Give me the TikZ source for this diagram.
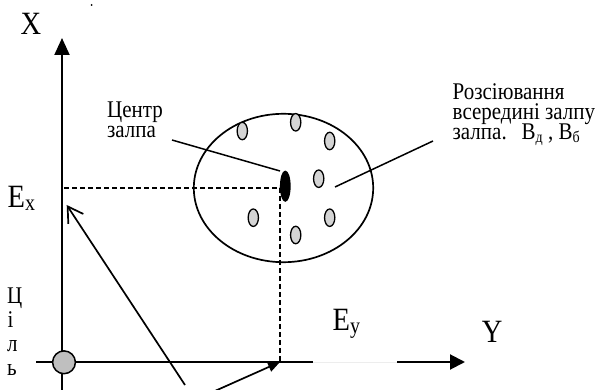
\documentclass[tikz,border=0pt]{standalone}
\usepackage{fontspec}
\setmainfont{Liberation Serif}
\usetikzlibrary{arrows.meta,shapes.geometric}
\newcommand{\vstretch}[1]{\scalebox{1}[1.14]{#1}}
\newcommand{\subsc}[2]{\raisebox{-2pt}{\fontsize{#1}{#1}\selectfont #2}}
\begin{document}
\begin{tikzpicture}[x=1pt,y=-1pt,
  big/.style={inner sep=0pt, anchor=base west, font=\fontsize{28.5}{30}\selectfont},
  small/.style={inner sep=0pt, anchor=base west, font=\fontsize{21}{21}\selectfont},
  axisline/.style={line width=2pt},
  dashline/.style={line width=1.5pt, dash pattern=on 5pt off 3pt},
  pellet/.style={ellipse, draw, line width=1.3pt, fill=black!17, minimum width=10.3pt, minimum height=17.5pt, inner sep=0pt},
  leader/.style={line width=1.5pt}
]
\useasboundingbox (0,0) rectangle (598,390);

% coordinates
\coordinate (vb) at (62,392);
\coordinate (vt) at (62,38);
\coordinate (hl) at (36,362);
\coordinate (hm) at (313,362);
\coordinate (hr0) at (397,362);
\coordinate (hr) at (465,362);
\coordinate (exl) at (64,188);
\coordinate (dc) at (280,188);
\coordinate (eyb) at (280,362);
\coordinate (la) at (185,385);
\coordinate (lt) at (66.7,205);
\coordinate (sa) at (205,395.4);
\coordinate (l1s) at (172,140);
\coordinate (l1e) at (280,171);
\coordinate (l2s) at (335,187);
\coordinate (l2e) at (433,141);

% stray dot at top
\node[circle, fill=black, inner sep=0pt, minimum size=2pt] (dot) at (91.7,5) {};

% axes
\draw[axisline,-{Triangle[length=17pt,width=15pt]}] (vb) -- (vt);
\draw[axisline] (hl) -- (hm);
\draw[line width=0.6pt, black!7] (hm) -- (hr0);
\draw[axisline,-{Triangle[length=15pt,width=15pt]}] (hr0) -- (hr);

% dashed projections
\draw[dashline] (exl) -- (dc) -- (eyb);

% salvo ellipse
\node[ellipse, draw, line width=1.7pt, minimum width=179.4pt, minimum height=148.4pt, inner sep=0pt] (salvo) at (283.5,188) {};

% pellets
\node[pellet] (p1) at (242.3,131) {};
\node[pellet] (p2) at (295.7,122.3) {};
\node[pellet] (p3) at (329.7,141) {};
\node[pellet] (p4) at (318.7,178.7) {};
\node[pellet] (p5) at (253.3,217.7) {};
\node[pellet] (p6) at (329.7,217.7) {};
\node[pellet] (p7) at (295.7,235) {};

% centre
\node[ellipse, draw, line width=1.3pt, fill=black, minimum width=9.4pt, minimum height=29.8pt, inner sep=0pt] (c) at (285.3,186.2) {};

% leaders
\draw[leader] (l1s) -- (l1e);
\draw[leader] (l2s) -- (l2e);

% target
\node[circle, draw, line width=1.5pt, fill=black!25, minimum size=22.8pt, inner sep=0pt] (target) at (64,362.3) {};

% arrows from below
\draw[line width=1.7pt, -{Straight Barb[length=15pt,width=18pt]}] (la) -- (lt);
\draw[line width=1.7pt, -{Triangle[length=12pt,width=10pt]}] (sa) -- (eyb);

% texts
\node[big] (lx) at (20.3,35) {\vstretch{X}};
\node[big] (ly) at (481.7,343) {\vstretch{Y}};
\node[big] (lex) at (7.5,208) {\vstretch{E\subsc{20}{x}}};
\node[big] (ley) at (332.5,331) {\vstretch{E\subsc{20}{y}}};

\node[small] (ct1) at (107,117.5) {\vstretch{Центр}};
\node[small] (ct2) at (107,138) {\vstretch{залпа}};

\node[small] (r1) at (452.5,100) {\vstretch{Розсіювання}};
\node[small] (r2) at (452.5,120) {\vstretch{всередині залпу}};
\node[small] (r3) at (452.5,140) {\vstretch{залпа.}};
\node[small] (r4) at (521.5,140) {\vstretch{B\subsc{14}{д} , B\subsc{14}{б}}};

\node[small] (t1) at (7,304) {\vstretch{Ц}};
\node[small] (t2) at (7.5,328) {\vstretch{і}};
\node[small] (t3) at (7,352) {\vstretch{л}};
\node[small] (t4) at (7,376) {\vstretch{ь}};
\end{tikzpicture}
\end{document}
